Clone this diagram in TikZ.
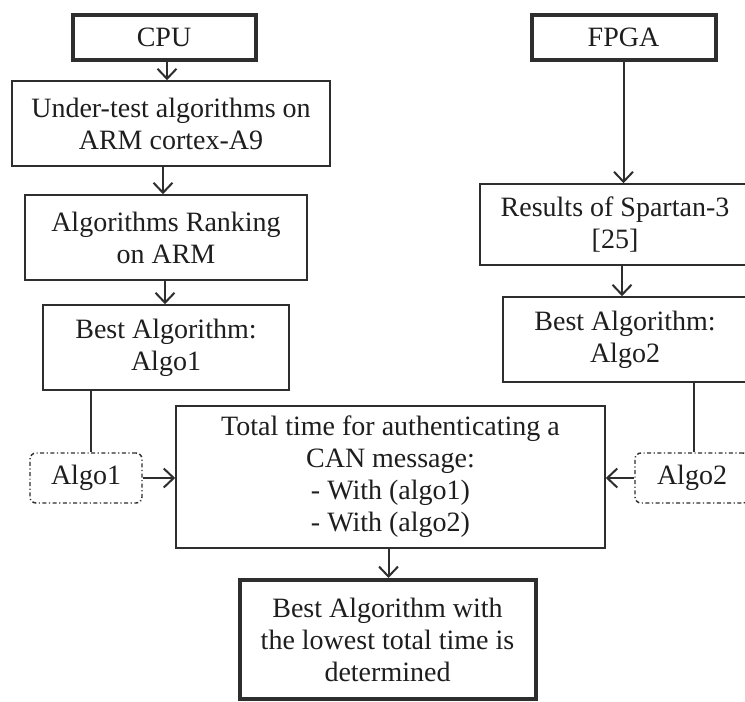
\documentclass[tikz,border=0pt]{standalone}
\usepackage{fontspec}
\setmainfont{Liberation Serif}
\usetikzlibrary{arrows.meta,calc}
\definecolor{ln}{HTML}{2E2E2E}
\definecolor{tx}{HTML}{1E1E1E}
\begin{document}
\begin{tikzpicture}[x=1pt,y=-1pt,
  base/.style={draw=ln,line width=1.6pt,align=center,inner sep=0pt,text=tx,
    font=\fontsize{28}{32}\selectfont},
  box/.style={base,rectangle},
  thickbox/.style={base,line width=4pt},
  dbox/.style={base,rounded corners=6pt,dash pattern=on 4pt off 2.5pt on 1.2pt off 2.5pt,line width=1.4pt},
  conn/.style={draw=ln,line width=2pt},
  arr/.style={conn,-{Straight Barb[length=10pt,width=19pt,line width=2pt]}}]
\clip (0,0) rectangle (745,702);
\fill[white] (0,0) rectangle (745,702);
% left column
\node[thickbox,minimum width=183pt,minimum height=45pt] (cpu) at (164,37) {CPU};
\node[box,minimum width=318pt,minimum height=85pt] (under) at (171,123.5) {Under-test algorithms on\\ARM cortex-A9};
\node[box,minimum width=282pt,minimum height=85pt] (rank) at (166,237.5) {Algorithms Ranking\\on ARM};
\node[box,minimum width=246pt,minimum height=85pt] (best1) at (166,347.5) {Best Algorithm:\\Algo1};
\node[dbox,minimum width=112pt,minimum height=50pt] (alg1) at (86,478) {Algo1};
% right column
\node[thickbox,minimum width=184pt,minimum height=45pt] (fpga) at (623.5,37) {FPGA};
\node[box,minimum width=270pt,minimum height=81pt] (res) at (615,224.5) {Results of Spartan-3\\{}[25]};
\node[box,minimum width=244pt,minimum height=85pt] (best2) at (625,339.5) {Best Algorithm:\\Algo2};
\node[dbox,minimum width=114pt,minimum height=50pt] (alg2) at (692,478) {Algo2};
% center
\node[box,minimum width=429pt,minimum height=142pt] (total) at (390.5,477)
  {Total time for authenticating a\\CAN message:\\- With (algo1)\\- With (algo2)};
\node[thickbox,minimum width=296pt,minimum height=119pt] (final) at (387.5,639.5)
  {Best Algorithm with\\the lowest total time is\\determined};
% connectors
\draw[arr] ([xshift=3pt]cpu.south) -- ([xshift=3pt]cpu.south |- under.north);
\draw[arr] ([xshift=-3pt]rank.north |- under.south) -- ([xshift=-3pt]rank.north);
\draw[arr] ([xshift=-1pt]best1.north |- rank.south) -- ([xshift=-1pt]best1.north);
\draw[arr] (fpga.south) -- (fpga.south |- res.north);
\draw[arr] ([xshift=-3pt]best2.north |- res.south) -- ([xshift=-3pt]best2.north);
\draw[conn] ([xshift=5pt]alg1.north |- best1.south) -- ([xshift=5pt]alg1.north);
\draw[conn] ([xshift=2pt]alg2.north |- best2.south) -- ([xshift=2pt]alg2.north);
\draw[arr] (alg1.east) -- (total.west |- alg1.east);
\draw[arr] (alg2.west) -- (total.east |- alg2.west);
\draw[arr] ([xshift=-2pt]total.south) -- ([xshift=-2pt]total.south |- final.north);
\end{tikzpicture}
\end{document}
